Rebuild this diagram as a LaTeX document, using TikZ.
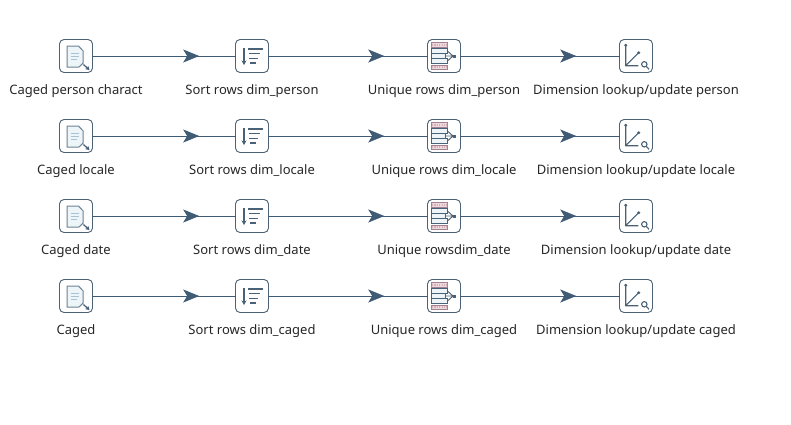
\documentclass[tikz,border=0pt]{standalone}
\usepackage{fontspec}
\setmainfont{Noto Sans}
\usepackage{xcolor}
\usetikzlibrary{arrows.meta, positioning, decorations.markings}
\definecolor{stepline}{HTML}{4A6176}
\definecolor{hopline}{HTML}{3F5B75}
\definecolor{paleline}{HTML}{A9C3D6}
\definecolor{palefill}{HTML}{EEF5F9}
\definecolor{hatchpink}{HTML}{C9909C}
\tikzset{
  stepbox/.style={draw=stepline, rounded corners=4.5pt, fill=white, line width=0.9pt, outer sep=0pt,
    minimum width=33pt, minimum height=33pt, inner sep=0pt},
  steplabel/.style={font=\fontsize{13pt}{15pt}\selectfont, text=black!85, inner sep=0pt, outer sep=0pt,
    text height=10.5pt, text depth=3pt},
  hop/.style={draw=hopline, line width=0.9pt, postaction={decorate}, decoration={markings,
    mark=at position #1 with {\arrow{Stealth[length=16pt, width=13pt, inset=4pt, fill=hopline]}}}},
  hop/.default=0.728,
  infile/.style={stepbox, path picture={
    \begin{scope}[shift={(path picture bounding box.center)}, x=1pt, y=-1pt, sharp corners]
      \draw[stepline!80, fill=palefill, line width=1pt, line join=round] (-9,-10) -- (2.5,-10) -- (7.2,-5) -- (7.2,7) -- (3,11) -- (-9,11) -- cycle;
      \draw[paleline, line width=0.9pt] (-5,-3) -- (3,-3) (-5,0) -- (3,0) (-5,3) -- (1,3);
      \draw[hopline, line width=1.2pt, -{Stealth[length=4pt, width=4.5pt]}] (7.5,8.5) -- (13.5,14);
    \end{scope}}},
  sorter/.style={stepbox, path picture={
    \begin{scope}[shift={(path picture bounding box.center)}, x=1pt, y=-1pt, sharp corners]
      \draw[stepline, line width=1.1pt, -{Stealth[length=4.5pt, width=5pt]}] (-8,-8) -- (-8,9);
      \draw[stepline, line width=1.1pt] (-4,-7) -- (10.7,-7) (-2.7,-2.5) -- (8.3,-2.5) (-2.7,2.5) -- (6,2.5) (-2,7) -- (4,7);
    \end{scope}}},
  uniquer/.style={stepbox, path picture={
    \begin{scope}[shift={(path picture bounding box.center)}, x=1pt, y=-1pt, sharp corners]
      \draw[hatchpink!70!stepline, fill=hatchpink!35, line width=0.5pt] (-12.3,-13.3) rectangle (3.5,-9) (-12.3,9) rectangle (3.5,13.5);
      \draw[hatchpink!70, line width=1.6pt, dash pattern=on 1.2pt off 1.2pt] (-12,-11.2) -- (3.2,-11.2) (-12,11.2) -- (3.2,11.2);
      \draw[stepline, line width=0.9pt, fill=palefill] (-12.3,-7.5) rectangle (3.5,-2.5) (-12.3,-2.5) rectangle (1,2.5) (-12.3,2.5) rectangle (3.5,7.5);
      \draw[stepline, line width=0.9pt] (3.5,-5) -- (9,0) -- (3.5,5) (1,0) -- (9,0);
      \fill[stepline] (8.5,-1.5) rectangle (12,1.5);
    \end{scope}}},
  dimlookup/.style={stepbox, path picture={
    \begin{scope}[shift={(path picture bounding box.center)}, x=1pt, y=-1pt, sharp corners]
      \draw[stepline, line width=1.1pt] (-10.3,-10.7) -- (-10.3,9.7) -- (2.3,9.7) (-10.3,9.7) -- (2.7,-3.3);
      \fill[stepline] (-10.3,-10.7) circle (1.6pt) (2.7,-3.3) circle (1.6pt);
      \draw[stepline, line width=1.1pt] (8.3,8.3) circle (2.7pt) (10.2,10.2) -- (13,13.3);
    \end{scope}}}
}

\begin{document}
\begin{tikzpicture}[node distance=47pt and 143pt]
  \useasboundingbox (0,0) rectangle (791pt,-424pt);
  % Row 1
  \node[infile] (in1) at (76pt,-56pt) {};
  \node[sorter, right=of in1] (sort1) {};
  \node[uniquer, right=159pt of sort1] (uniq1) {};
  \node[dimlookup, right=159pt of uniq1] (dim1) {};

  % Row 2
  \node[infile, below=of in1] (in2) {};
  \node[sorter, below=of sort1] (sort2) {};
  \node[uniquer, below=of uniq1] (uniq2) {};
  \node[dimlookup, below=of dim1] (dim2) {};

  % Row 3
  \node[infile, below=of in2] (in3) {};
  \node[sorter, below=of sort2] (sort3) {};
  \node[uniquer, below=of uniq2] (uniq3) {};
  \node[dimlookup, below=of dim2] (dim3) {};

  % Row 4
  \node[infile, below=of in3] (in4) {};
  \node[sorter, below=of sort3] (sort4) {};
  \node[uniquer, below=of uniq3] (uniq4) {};
  \node[dimlookup, below=of dim3] (dim4) {};

  % Labels
  \node[steplabel, below=11pt of in1] (lin1) {Caged person charact};
  \node[steplabel, below=11pt of sort1] (lsort1) {Sort rows dim\_person};
  \node[steplabel, below=11pt of uniq1] (luniq1) {Unique rows dim\_person};
  \node[steplabel, below=11pt of dim1] (ldim1) {Dimension lookup/update person};
  \node[steplabel, below=11pt of in2] (lin2) {Caged locale};
  \node[steplabel, below=11pt of sort2] (lsort2) {Sort rows dim\_locale};
  \node[steplabel, below=11pt of uniq2] (luniq2) {Unique rows dim\_locale};
  \node[steplabel, below=11pt of dim2] (ldim2) {Dimension lookup/update locale};
  \node[steplabel, below=11pt of in3] (lin3) {Caged date};
  \node[steplabel, below=11pt of sort3] (lsort3) {Sort rows dim\_date};
  \node[steplabel, below=11pt of uniq3] (luniq3) {Unique rowsdim\_date};
  \node[steplabel, below=11pt of dim3] (ldim3) {Dimension lookup/update date};
  \node[steplabel, below=11pt of in4] (lin4) {Caged};
  \node[steplabel, below=11pt of sort4] (lsort4) {Sort rows dim\_caged};
  \node[steplabel, below=11pt of uniq4] (luniq4) {Unique rows dim\_caged};
  \node[steplabel, below=11pt of dim4] (ldim4) {Dimension lookup/update caged};

  % Arrows
  \draw[hop=0.746] (in1) -- (sort1);
  \draw[hop] (sort1) -- (uniq1);
  \draw[hop] (uniq1) -- (dim1);
  \draw[hop=0.746] (in2) -- (sort2);
  \draw[hop] (sort2) -- (uniq2);
  \draw[hop] (uniq2) -- (dim2);
  \draw[hop=0.746] (in3) -- (sort3);
  \draw[hop] (sort3) -- (uniq3);
  \draw[hop] (uniq3) -- (dim3);
  \draw[hop=0.746] (in4) -- (sort4);
  \draw[hop] (sort4) -- (uniq4);
  \draw[hop] (uniq4) -- (dim4);
\end{tikzpicture}
\end{document}
